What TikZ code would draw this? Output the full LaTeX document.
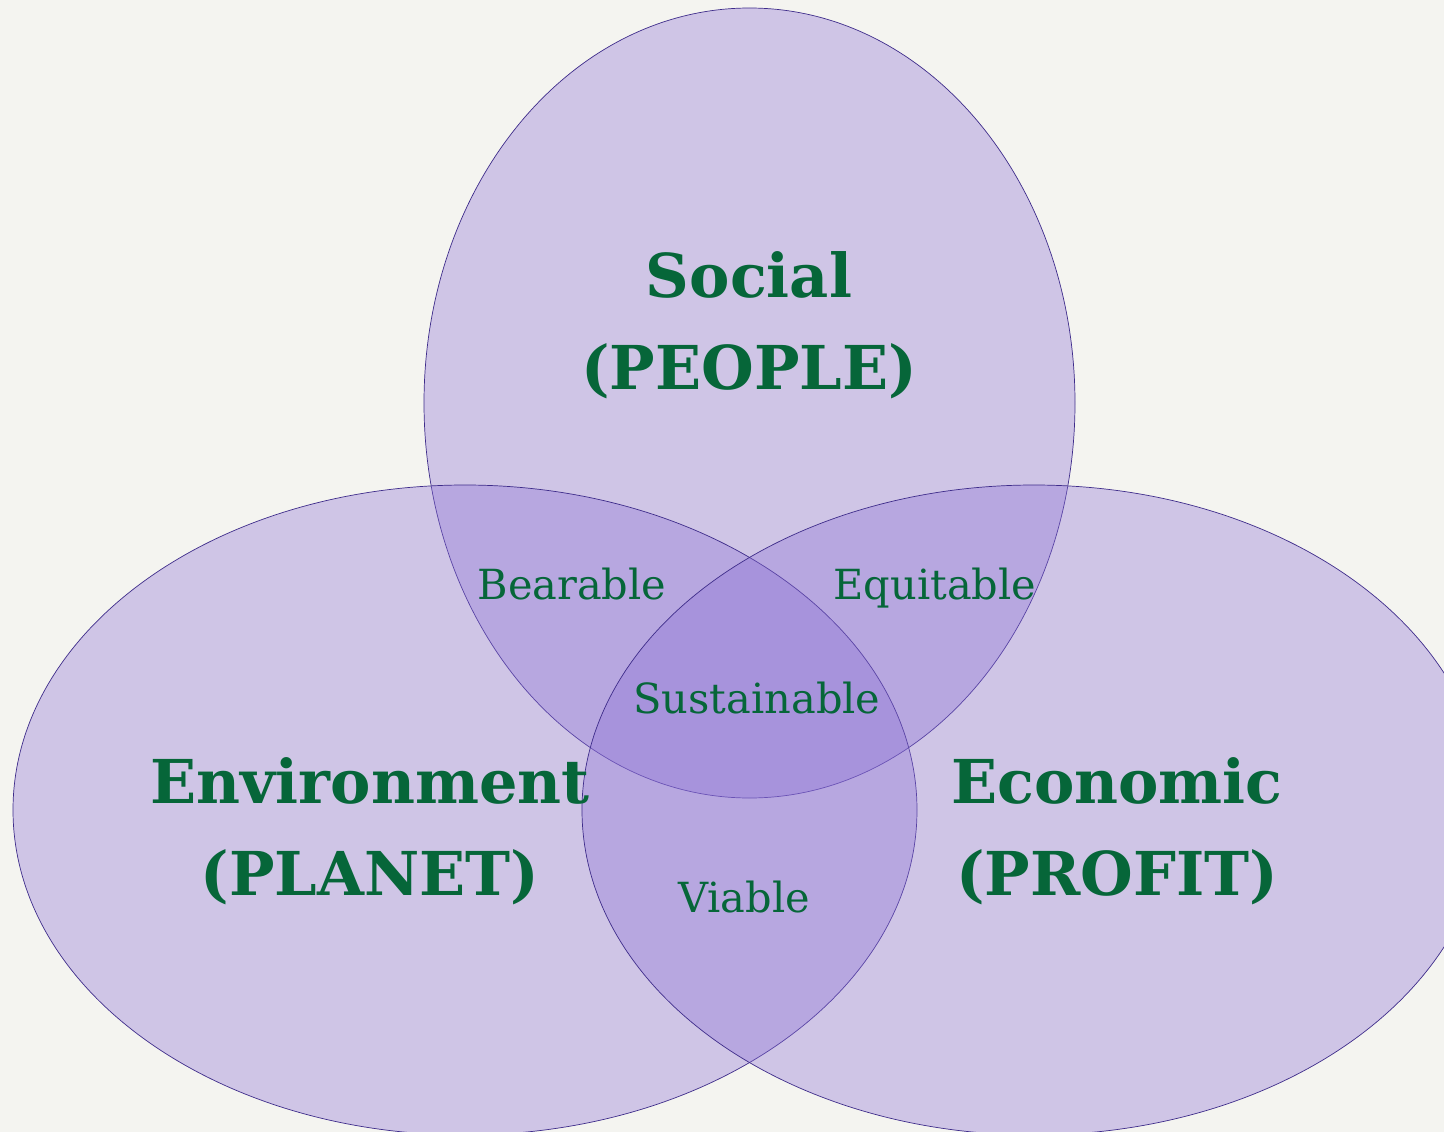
\documentclass[tikz,border=0pt]{standalone}
\usepackage{fontspec}
\setmainfont{DejaVu Serif}
\usepackage{xcolor}
\usepackage{tikz}
\usetikzlibrary{positioning}

\definecolor{paper}{RGB}{244,244,240}
\definecolor{lilac}{RGB}{140,112,214}
\definecolor{rim}{RGB}{62,44,138}
\definecolor{leaf}{RGB}{6,102,57}

\begin{document}
\begin{tikzpicture}[
    x=1pt, y=-1pt,
    ring/.style={
        draw=rim,
        line width=0.7pt,
        fill=lilac,
        fill opacity=0.35
    },
    pillar/.style={
        text=leaf,
        align=center,
        font=\fontsize{60.5}{92}\selectfont\bfseries
    },
    overlap/.style={
        text=leaf,
        anchor=base,
        font=\fontsize{41.5}{50}\selectfont
    }
]

% ----------------------------------------------------------
% CANVAS
% ----------------------------------------------------------

\fill[paper] (0,0) rectangle (1444,1132);
\useasboundingbox (0,0) rectangle (1444,1132);

% ----------------------------------------------------------
% CIRCLES
% ----------------------------------------------------------

\draw[ring] (749.5,403) ellipse [x radius=325.5pt, y radius=395pt];
\draw[ring] (465,810) ellipse [x radius=452pt, y radius=325pt];
\draw[ring] (1034,810) ellipse [x radius=452pt, y radius=325pt];

% ----------------------------------------------------------
% LABELS
% ----------------------------------------------------------

\node[pillar] (social) at (749,325) {Social\\(PEOPLE)};
\node[pillar] (environment) at (370,831) {Environment\\(PLANET)};
\node[pillar] (economic) at (1117,831) {Economic\\(PROFIT)};

\node[overlap] (bearable) at (572,599) {Bearable};
\node[overlap] (equitable) at (935,599) {Equitable};
\node[overlap] (sustainable) at (757,713) {Sustainable};
\node[overlap] (viable) at (744,912) {Viable};

\end{tikzpicture}
\end{document}
